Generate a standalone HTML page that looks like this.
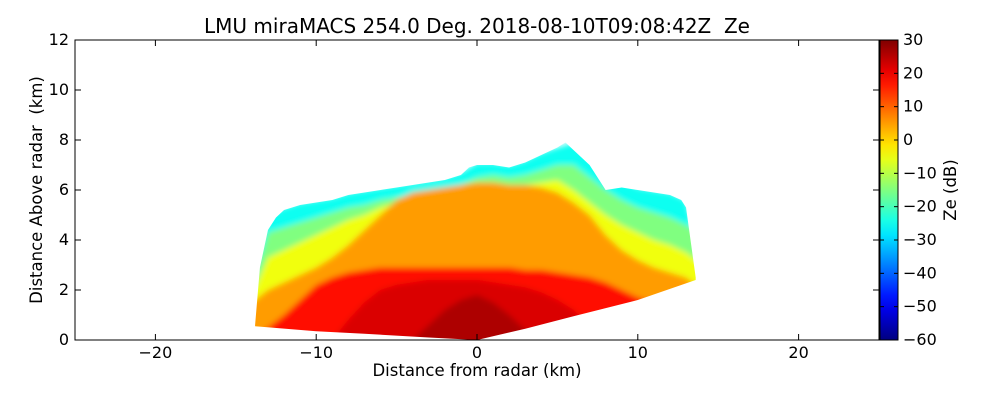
<!DOCTYPE html>
<html><head><meta charset="utf-8">
<style>
body{margin:0;background:#fff;}
svg{display:block;font-family:"DejaVu Sans","Liberation Sans",sans-serif;}
</style></head>
<body>
<svg id="chart" width="1000" height="400" viewBox="0 0 1000 400" xmlns="http://www.w3.org/2000/svg">
<defs>
<linearGradient id="jetGrad" x1="0" y1="1" x2="0" y2="0"></linearGradient>
<clipPath id="echoClip"><polygon id="echoPoly"></polygon></clipPath>
<clipPath id="plotClip"><rect x="75" y="40" width="804" height="300"></rect></clipPath>
<filter id="soft" x="-5%" y="-5%" width="110%" height="110%"><feGaussianBlur stdDeviation="3"></feGaussianBlur></filter>
</defs>
<rect x="0" y="0" width="1000" height="400" fill="#fff"></rect>
<text x="477" y="33" font-size="20" text-anchor="middle" xml:space="preserve">LMU miraMACS 254.0 Deg. 2018-08-10T09:08:42Z  Ze</text>
<g id="echo" clip-path="url(#plotClip)"><g clip-path="url(#echoClip)"><g id="layers" filter="url(#soft)"></g></g></g>
<rect x="75" y="40" width="804" height="300" fill="none" stroke="#000" stroke-width="1"></rect>
<g id="axes"></g>
<rect x="880" y="40" width="18" height="300" fill="url(#jetGrad)" stroke="#000" stroke-width="1"></rect>
<g id="cbticks"></g>
<text x="477" y="376" font-size="16.5" text-anchor="middle">Distance from radar (km)</text>
<text transform="translate(42,190) rotate(-90)" font-size="16.5" text-anchor="middle" xml:space="preserve">Distance Above radar  (km)</text>
<text transform="translate(956,190) rotate(-90)" font-size="16.5" text-anchor="middle">Ze (dB)</text>
</svg>
<script>
const xTicks=[-20,-10,0,10,20];
const yTicks=[0,2,4,6,8,10,12];
const cbTicks=[-60,-50,-40,-30,-20,-10,0,10,20,30];
const echoX=[-13.8,-13.5,-13,-12.5,-12,-11,-10,-9,-8,-7,-6,-5,-4,-3,-2,-1,-0.5,0,1,2,3,4,5,5.5,6,7,8,9,10,11,12,12.7,13,13.6,13.6,10,6,3,0,-3,-7,-10,-13.8];
const echoY=[0.6,2.9,4.4,4.9,5.2,5.4,5.5,5.6,5.8,5.9,6.0,6.1,6.2,6.3,6.4,6.6,6.9,7.0,7.0,6.9,7.1,7.4,7.7,7.9,7.6,7.0,6.0,6.1,6.0,5.9,5.8,5.6,5.3,2.5,2.4,1.6,0.95,0.45,0,0.1,0.25,0.35,0.55];
const ranges=[-14,-13,-12,-11,-10,-9,-8,-7,-6,-5,-4,-3,-2,-1,0,1,2,3,4,5,6,7,8,9,10,11,12,13,14];
const levelDb=[-25,-15,-5,5,18,22,26];
const lvl0=[3,5,5.3,5.5,5.6,5.7,5.9,6,6.1,6.2,6.3,6.4,6.5,6.7,7.1,7.1,7,7.2,7.5,7.7,7.9,7.4,6.9,6.4,6.1,6,5.9,5.6,3];
const lvl1=[2.2,4.3,4.5,4.7,4.9,5.1,5.3,5.4,5.6,5.7,5.8,5.9,6.0,6.2,6.5,6.6,6.5,6.6,6.8,7.0,7.0,6.5,6.0,5.6,5.3,5.1,4.9,4.6,4.2];
const lvl2=[1.8,3.3,3.6,3.9,4.2,4.5,4.8,5.0,5.3,5.5,5.6,5.8,5.9,6.0,6.3,6.3,6.2,6.2,6.3,6.4,6.0,5.5,5.0,4.6,4.3,4.0,3.8,3.5,3.0];
const lvl3=[1.5,2.0,2.3,2.6,2.9,3.3,3.8,4.4,5.0,5.6,5.9,6.0,6.1,6.2,6.3,6.3,6.2,6.2,6.1,5.9,5.5,5.0,4.2,3.6,3.2,2.9,2.7,2.5,2.0];
const lvl4=[0,0.5,1.0,1.6,2.2,2.5,2.7,2.8,2.9,2.9,2.9,2.9,2.9,2.9,2.9,2.9,2.9,2.8,2.8,2.7,2.6,2.5,2.3,2.0,1.7,1.5,1.3,1.0,0.5];
const lvl5=[0,0,0,0,0,0,0.8,1.5,2.0,2.2,2.3,2.4,2.4,2.4,2.4,2.3,2.2,2.1,1.9,1.6,1.2,0.6,0,0,0,0,0,0,0];
const lvl6=[0,0,0,0,0,0,0,0,0,0,0,0.6,1.2,1.6,1.8,1.5,1.0,0.4,0,0,0,0,0,0,0,0,0,0,0];
const levels=[lvl0,lvl1,lvl2,lvl3,lvl4,lvl5,lvl6];

const NS="http://www.w3.org/2000/svg";
const X=v=>477+v*16.08, Y=v=>340-v*25, CB=v=>340-(v+60)/90*300;
function jet(v){const t=Math.max(0,Math.min(1,(v+60)/90));const c=x=>Math.round(255*Math.max(0,Math.min(1,1.5-Math.abs(x))));return `rgb(${c(4*t-3)},${c(4*t-2)},${c(4*t-1)})`;}
const g=document.getElementById('jetGrad');
for(let i=0;i<=20;i++){const s=document.createElementNS(NS,'stop');s.setAttribute('offset',i/20);s.setAttribute('stop-color',jet(-60+90*i/20));g.appendChild(s);}
document.getElementById('echoPoly').setAttribute('points',echoX.map((x,i)=>X(x)+','+Y(echoY[i])).join(' '));
const L=document.getElementById('layers');
levels.forEach((arr,k)=>{
  const p=document.createElementNS(NS,'polygon');
  let pts=ranges.map((r,i)=>X(r)+','+Y(arr[i]));
  pts.push(X(14.5)+','+Y(arr[arr.length-1]),X(14.5)+','+Y(-0.5),X(-14.5)+','+Y(-0.5),X(-14.5)+','+Y(arr[0]));
  p.setAttribute('points',pts.join(' '));
  p.setAttribute('fill',jet(levelDb[k]));
  
  
  L.appendChild(p);
});
const A=document.getElementById('axes');
function line(x1,y1,x2,y2,parent){const l=document.createElementNS(NS,'line');l.setAttribute('x1',x1);l.setAttribute('y1',y1);l.setAttribute('x2',x2);l.setAttribute('y2',y2);l.setAttribute('stroke','#000');parent.appendChild(l);return l;}
function txt(x,y,s,anchor,parent,name){const t=document.createElementNS(NS,'text');t.setAttribute('x',x);t.setAttribute('y',y);t.setAttribute('font-size','16');t.setAttribute('text-anchor',anchor);t.textContent=s;


parent.appendChild(t);}
xTicks.forEach(v=>{const x=X(v);line(x,340,x,334,A);line(x,40,x,46,A);txt(x,358,v<0?'\u2212'+(-v):v,'middle',A,'x-tick-label');});
yTicks.forEach(v=>{const y=Y(v);line(75,y,81,y,A);line(879,y,873,y,A);txt(69,y+5,v,'end',A,'y-tick-label');});
const C=document.getElementById('cbticks');
cbTicks.forEach(v=>{const y=CB(v);line(880,y,884,y,C);line(898,y,894,y,C);txt(903,y+5,v<0?'\u2212'+(-v):v,'start',C,'colorbar-tick-label');});
</script>
</body></html>
